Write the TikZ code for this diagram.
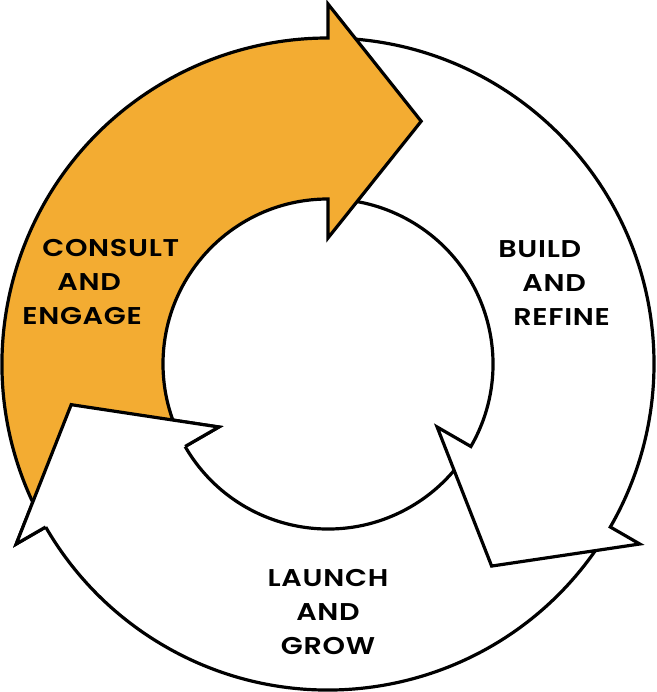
\documentclass[tikz,border=0pt]{standalone}
\usepackage{fontspec}
\setmainfont{Poppins}[BoldFont={Poppins SemiBold},
  BoldFeatures={FakeStretch=1.18, LetterSpace=3}]
\definecolor{consultorange}{HTML}{F3AC32}

% one curved arrow of the ring: fill, tail angle, angle of the head's back
\newcommand{\ringarrow}[3]{%
  \filldraw[ring, fill=#1] (#2:326) arc[start angle=#2, end angle=#3, radius=326]
    -- (#3:360) -- (#3-21:260) -- (#3:126) -- (#3:165)
    arc[start angle=#3, end angle=#2, radius=165] -- cycle;}

\begin{document}
\begin{tikzpicture}[x=0.02cm, y=0.02cm,
    ring/.style={draw=black, line width=0.064cm, line join=miter},
    lbl/.style={font=\bfseries\fontsize{13.8}{19.4}\selectfont, inner sep=0pt}]

  \useasboundingbox (-328,-328) rectangle (328,364);

  \ringarrow{white}{328}{210}
  \ringarrow{white}{88}{-30}
  \ringarrow{consultorange}{208}{90}
  % head of the lower arrow lies over the tail of the orange one
  \filldraw[ring, fill=white] (210:165) -- (210:126) -- (189:260) -- (210:360) -- (210:326);

  \node[lbl, anchor=west, align=left] (consult) at (-306,82)
    {\hspace*{0.4cm}CONSULT\\ \hspace*{0.7cm}AND\\ ENGAGE};
  \node[lbl, anchor=west, align=left] (build) at (170,81)
    {BUILD\\ \hspace*{0.48cm}AND\\ \hspace*{0.3cm}REFINE};
  \node[lbl, align=center] (launch) at (0,-248) {LAUNCH\\ AND\\ GROW};

\end{tikzpicture}
\end{document}
